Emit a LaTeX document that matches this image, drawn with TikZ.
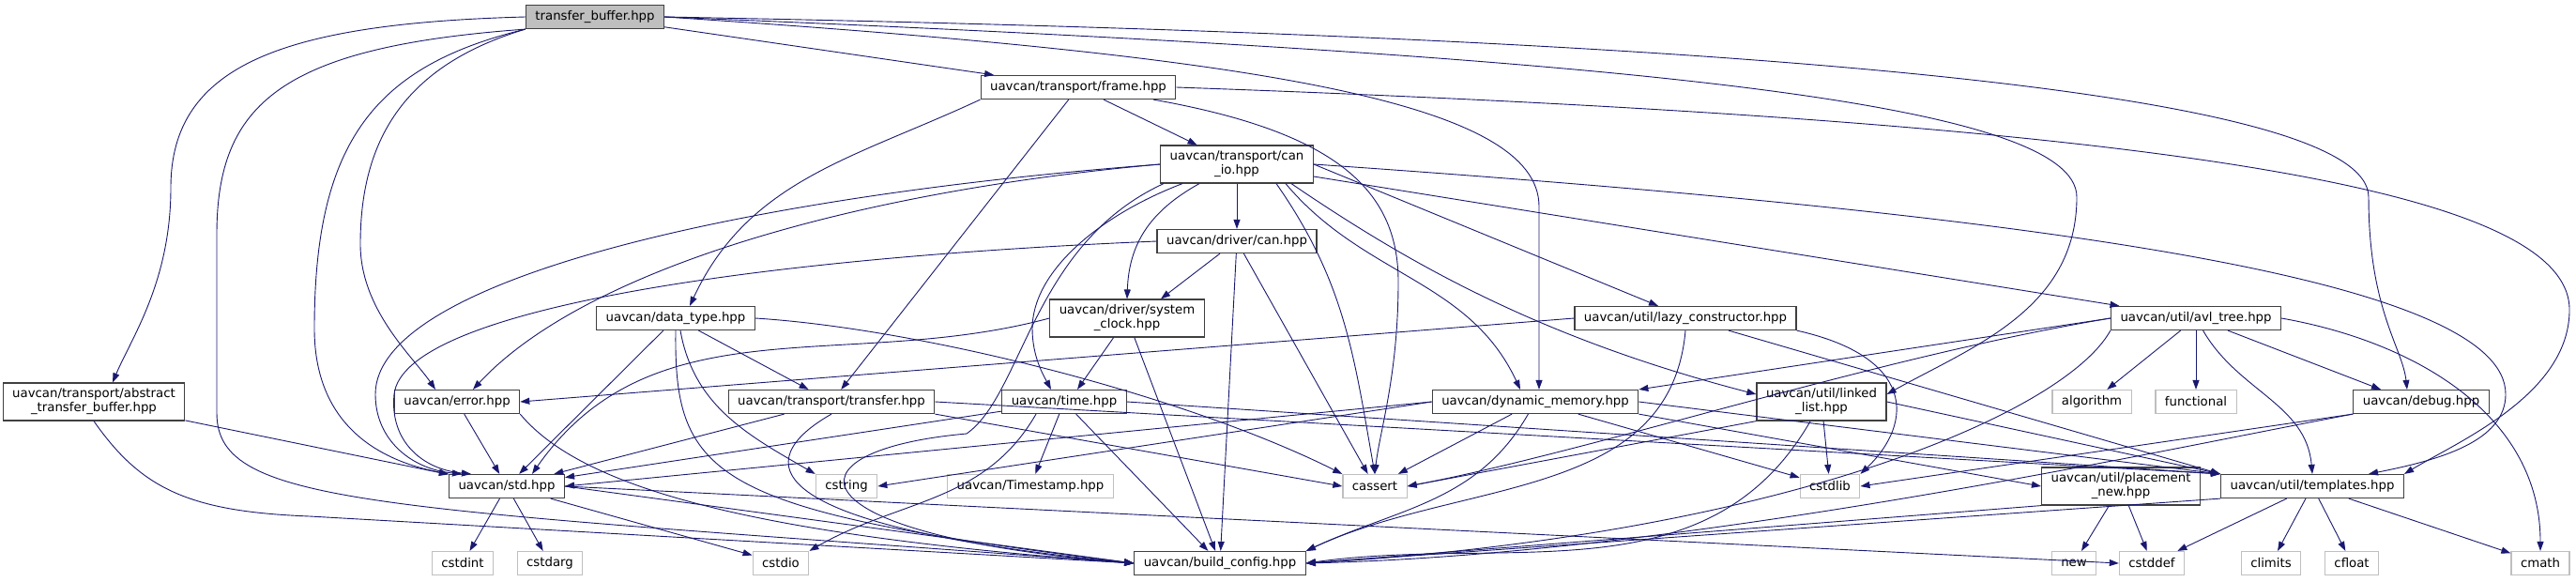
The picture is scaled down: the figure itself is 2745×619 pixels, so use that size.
\documentclass[tikz,border=0pt]{standalone}
\usepackage{fontspec}
\setmainfont{DejaVu Sans}
\usetikzlibrary{arrows.meta}
\definecolor{edgeblue}{HTML}{191970}
\definecolor{nodegrey}{HTML}{BFBFBF}
\tikzstyle{hdr} = [rectangle, draw=black!75, line width=1.2pt, fill=white,
    inner xsep=10pt, inner ysep=0pt, minimum height=25pt, align=center,
    font=\fontsize{13.3}{15}\selectfont]
\tikzstyle{hdrtwo} = [hdr, minimum height=40pt]
\tikzstyle{sys} = [hdr, draw=nodegrey]
\tikzstyle{root} = [hdr, fill=nodegrey]
\tikzstyle{dep} = [draw=edgeblue, line width=0.9pt]

\begin{document}
\begin{tikzpicture}[->,>={Triangle[length=10pt,width=7pt]},x=1pt,y=-1pt,
                    every edge/.style={draw=edgeblue,line width=0.9pt}]
  \useasboundingbox (0,0) rectangle (2745,619);

  \node[root] (tb) at (634,18) {transfer\_buffer.hpp};
  \node[hdr] (frame) at (1149,93) {uavcan/transport/frame.hpp};
  \node[hdrtwo] (canio) at (1318,175) {uavcan/transport/can\\\_io.hpp};
  \node[hdr] (dcan) at (1318,257) {uavcan/driver/can.hpp};
  \node[hdr] (dtype) at (720,339) {uavcan/data\_type.hpp};
  \node[hdrtwo] (sysclk) at (1201,339) {uavcan/driver/system\\\_clock.hpp};
  \node[hdr] (lazy) at (1796,339) {uavcan/util/lazy\_constructor.hpp};
  \node[hdr] (avl) at (2340,339) {uavcan/util/avl\_tree.hpp};
  \node[hdrtwo] (atb) at (100,428) {uavcan/transport/abstract\\\_transfer\_buffer.hpp};
  \node[hdr] (err) at (487,428) {uavcan/error.hpp};
  \node[hdr] (xfer) at (886,428) {uavcan/transport/transfer.hpp};
  \node[hdr] (time) at (1134,428) {uavcan/time.hpp};
  \node[hdr] (dm) at (1636,428) {uavcan/dynamic\_memory.hpp};
  \node[hdrtwo] (ll) at (1941,428) {uavcan/util/linked\\\_list.hpp};
  \node[sys] (algo) at (2229,428) {algorithm};
  \node[sys] (func) at (2340,428) {functional};
  \node[hdr] (dbg) at (2580,428) {uavcan/debug.hpp};
  \node[hdr] (stdh) at (540,518) {uavcan/std.hpp};
  \node[sys] (cstring) at (902,518) {cstring};
  \node[sys] (stamp) at (1098,518) {uavcan/Timestamp.hpp};
  \node[sys] (cassert) at (1465,518) {cassert};
  \node[sys] (cstdlib) at (1950,518) {cstdlib};
  \node[hdrtwo] (pnew) at (2260,518) {uavcan/util/placement\\\_new.hpp};
  \node[hdr] (tpl) at (2464,518) {uavcan/util/templates.hpp};
  \node[sys] (cstdint) at (493,600) {cstdint};
  \node[sys] (cstdarg) at (586,600) {cstdarg};
  \node[sys] (cstdio) at (832,600) {cstdio};
  \node[hdr] (bc) at (1300,600) {uavcan/build\_config.hpp};
  \node[sys] (newh) at (2210,600) {new};
  \node[sys] (cstddef) at (2293,600) {cstddef};
  \node[sys] (climits) at (2420,600) {climits};
  \node[sys] (cfloat) at (2506,600) {cfloat};
  \node[sys] (cmath) at (2707,600) {cmath};

  % transfer_buffer.hpp
  \path (tb) edge (frame);
  \draw[dep] (tb.west) .. controls (300,25) and (182,70) .. (182,200)
        .. controls (182,300) and (140,360) .. ([xshift=20pt]atb.north);
  \draw[dep] (tb.south west) .. controls (300,50) and (231,110) .. (231,250) -- (231,440)
        .. controls (231,540) and (400,540) .. (bc.west);
  \draw[dep] (tb.south west) .. controls (400,70) and (335,150) .. (335,350)
        .. controls (335,450) and (400,490) .. (stdh.north west);
  \draw[dep] (tb.south west) .. controls (430,70) and (384,150) .. (384,260)
        .. controls (384,330) and (440,380) .. ([xshift=-23pt]err.north);
  \draw[dep] (tb.east) .. controls (1350,60) and (1640,110) .. (1640,220) -- ([xshift=4pt]dm.north);
  \draw[dep] (tb.east) .. controls (1750,60) and (2213,110) .. (2213,210)
        .. controls (2213,330) and (2100,370) .. ([yshift=8pt]ll.east);
  \draw[dep] (tb.east) .. controls (1900,40) and (2524,100) .. (2524,210)
        .. controls (2524,330) and (2560,370) .. ([xshift=-15pt]dbg.north);

  % frame.hpp
  \path (frame) edge (xfer)
        (frame) edge (canio)
        (frame.south west) edge[out=205,in=65] ([xshift=15pt]dtype.north);
  \draw[dep] ([xshift=80pt]frame.south) .. controls (1420,140) and (1490,200) .. (1490,300)
        .. controls (1490,400) and (1470,460) .. (cassert.north);
  \draw[dep] (frame.east) .. controls (2300,130) and (2738,200) .. (2738,330)
        .. controls (2738,420) and (2620,470) .. (tpl.north east);

  % can_io.hpp
  \path (canio) edge (dcan)
        (canio) edge (avl)
        (canio.east) edge ([xshift=-29pt]lazy.north)
        ([xshift=42pt]canio.south) edge[out=-55,in=100] (cassert.north)
        ([xshift=52pt]canio.south) edge[out=-50,in=115] ([xshift=-16pt]dm.north);
  \draw[dep] ([xshift=-40pt]canio.south) .. controls (1225,225) and (1203,260) .. (sysclk.north);
  \draw[dep] ([xshift=58pt]canio.south) .. controls (1500,280) and (1640,360) .. ([yshift=8pt]ll.west);
  \draw[dep] ([xshift=-58pt]canio.south) .. controls (1170,230) and (1100,290) .. (1100,350)
        .. controls (1100,380) and (1112,400) .. ([xshift=-14pt]time.north);
  \draw[dep] (canio.west) .. controls (900,205) and (620,290) .. ([xshift=17pt]err.north);
  \draw[dep] (canio.west) .. controls (780,210) and (400,300) .. (400,420)
        .. controls (400,470) and (440,500) .. ([xshift=-48pt]stdh.north);
  \draw[dep] ([xshift=-78pt]canio.south) .. controls (1100,260) and (1090,420) .. (1030,462)
        .. controls (830,480) and (840,570) .. (bc.west);
  \draw[dep] (canio.east) .. controls (2200,230) and (2670,300) .. (2670,420)
        .. controls (2670,470) and (2600,490) .. ([xshift=60pt]tpl.north);

  % driver/can.hpp, system_clock.hpp
  \path ([xshift=-18pt]dcan.south) edge ([xshift=36pt]sysclk.north)
        (dcan) edge (bc)
        (dcan) edge (cassert)
        (sysclk) edge ([xshift=14pt]time.north)
        (sysclk) edge (bc)
        (sysclk.west) edge[out=195,in=55] ([xshift=27pt]stdh.north);
  \draw[dep] (dcan.west) .. controls (800,275) and (430,330) .. (420,420)
        .. controls (415,470) and (450,500) .. ([xshift=-38pt]stdh.north);

  % data_type.hpp, transfer.hpp, time.hpp
  \path (dtype) edge (stdh)
        (dtype) edge (xfer)
        ([xshift=5pt]dtype.south) edge[out=-80,in=150] (cstring.north west)
        (xfer) edge (stdh)
        (xfer.south east) edge (cassert.west)
        (xfer.east) edge (tpl.north west)
        (time) edge (stdh)
        ([xshift=-30pt]time.south) edge[out=240,in=30] (cstdio.north east)
        (time) edge (stamp)
        (time) edge (bc)
        (time.east) edge (tpl.north west);
  \draw[dep] (dtype.east) .. controls (980,350) and (1260,420) .. (cassert.north west);
  \draw[dep] (dtype.south) .. controls (718,510) and (760,545) .. (bc.west);
  \draw[dep] (xfer.south) .. controls (800,490) and (800,560) .. (bc.west);

  % lazy_constructor.hpp, dynamic_memory.hpp, linked_list.hpp
  \path (lazy.west) edge (err.east)
        (lazy.south) edge[out=265,in=25] (bc.north east)
        ([xshift=46pt]lazy.south) edge (tpl.north west)
        (dm.west) edge (stdh.east)
        (dm.west) edge (cstring.east)
        (dm) edge (cassert)
        (dm) edge[out=240,in=25] (bc.north east)
        (dm) edge (cstdlib)
        (dm.east) edge (tpl.north west)
        (dm.south east) edge (pnew.west)
        (ll.south west) edge (cassert.east)
        (ll) edge (cstdlib)
        (ll) edge[out=240,in=8] (bc.east)
        (ll.east) edge (tpl.north west);
  \draw[dep] (lazy.south east) .. controls (2040,380) and (2040,450) .. (cstdlib.north east);

  % avl_tree.hpp, debug.hpp
  \path (avl.west) edge (dm.north east)
        (avl) edge (algo)
        (avl) edge (func)
        (avl) edge ([xshift=-43pt]dbg.north)
        (avl) edge[out=-60,in=95] (tpl.north)
        (avl.east) edge[out=-10,in=90] (cmath.north)
        (dbg.south west) edge (cstdlib.east);
  \draw[dep] (avl.west) .. controls (2000,380) and (1700,480) .. (cassert.east);
  \draw[dep] (avl.south west) .. controls (2200,440) and (1900,570) .. (bc.east);
  \draw[dep] (dbg.south west) .. controls (2300,480) and (1800,590) .. (bc.east);

  % std.hpp, error.hpp, abstract_transfer_buffer.hpp
  \path (atb) edge (stdh)
        (err) edge (stdh)
        (stdh) edge (cstdint)
        (stdh) edge (cstdarg)
        (stdh) edge (cstdio)
        (stdh.east) edge (bc.west)
        (stdh.east) edge (cstddef.west);
  \draw[dep] (err.south east) .. controls (620,520) and (800,570) .. (bc.west);
  \draw[dep] (atb.south) .. controls (150,520) and (200,545) .. (330,550) -- (bc.west);

  % placement_new.hpp, templates.hpp
  \path (pnew) edge (newh)
        (pnew) edge (cstddef)
        (pnew.south west) edge (bc.east)
        (tpl) edge (cstddef)
        (tpl) edge (climits)
        (tpl) edge (cfloat)
        (tpl) edge (cmath)
        (tpl.south west) edge (bc.east);
\end{tikzpicture}
\end{document}
